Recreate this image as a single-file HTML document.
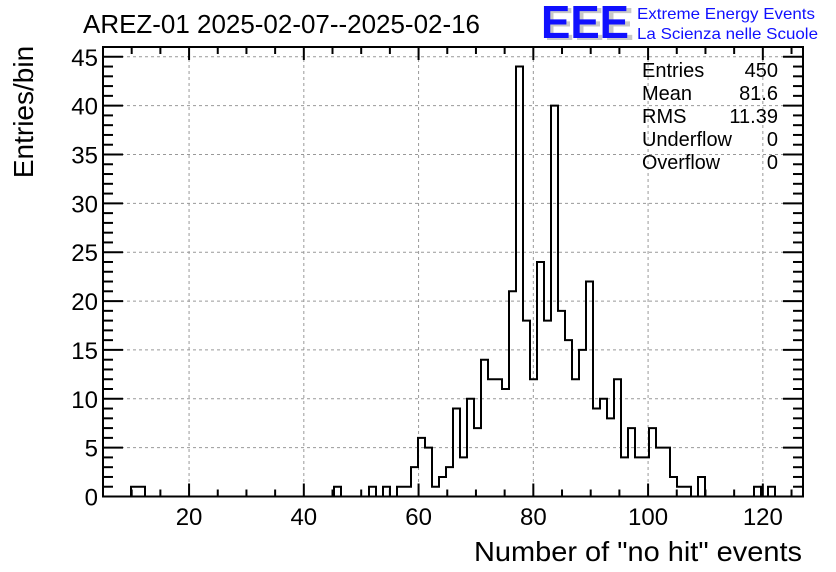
<!DOCTYPE html>
<html><head><meta charset="utf-8"><style>
body{margin:0;background:#fff;}
svg{display:block;font-family:"Liberation Sans",Arial,sans-serif;}
</style></head><body>
<svg id="chart" width="836" height="572" viewBox="0 0 836 572" xmlns="http://www.w3.org/2000/svg">
<rect width="836" height="572" fill="#fff"/>
<text x="83" y="33" font-size="26" textLength="397" lengthAdjust="spacingAndGlyphs">AREZ-01 2025-02-07--2025-02-16</text>
<g>
<text x="544" y="40" font-size="46" font-weight="bold" fill="#c8c8c8" textLength="90" lengthAdjust="spacingAndGlyphs">EEE</text>
<text x="541" y="38" font-size="46" font-weight="bold" fill="#1010ff" textLength="88" lengthAdjust="spacingAndGlyphs">EEE</text>
<text x="637" y="19" font-size="16" fill="#1010ff" textLength="178" lengthAdjust="spacingAndGlyphs">Extreme Energy Events</text>
<text x="637" y="39" font-size="16" fill="#1010ff" textLength="181" lengthAdjust="spacingAndGlyphs">La Scienza nelle Scuole</text>
</g>
<g id="grid"></g>
<g id="hist"></g>
<g id="axes"></g>
<text transform="translate(33,112) rotate(-90)" text-anchor="middle" font-size="28">Entries/bin</text>
<text x="802" y="561" text-anchor="end" font-size="28" textLength="328" lengthAdjust="spacingAndGlyphs">Number of "no hit" events</text>
<g font-size="20">
<text x="642" y="77">Entries</text><text x="778" y="77" text-anchor="end">450</text>
<text x="642" y="100">Mean</text><text x="778" y="100" text-anchor="end">81.6</text>
<text x="642" y="123">RMS</text><text x="778" y="123" text-anchor="end">11.39</text>
<text x="642" y="146" textLength="90" lengthAdjust="spacingAndGlyphs">Underflow</text><text x="778" y="146" text-anchor="end">0</text>
<text x="642" y="169" textLength="78" lengthAdjust="spacingAndGlyphs">Overflow</text><text x="778" y="169" text-anchor="end">0</text>
</g>
</svg>
<script>
const xMin = 5, xMax = 127, nBins = 100;
const yMax = 45;
const xTickLabels = [20, 40, 60, 80, 100, 120];
const yTickLabels = [0, 5, 10, 15, 20, 25, 30, 35, 40, 45];
const nonZeroBins = [4,5,33,38,40,42,43,44,45,46,47,48,49,50,51,52,53,54,55,56,57,58,59,60,61,62,63,64,65,66,67,68,69,70,71,72,73,74,75,76,77,78,79,80,81,82,83,85,93,95];
const binCounts =   [1,1,1, 1, 1, 1, 1, 3, 6, 5, 1, 2, 3, 9, 4,10, 7,14,12,12,11,21,44,18,12,24,18,40,19,16,12,15,22, 9,10, 8,12, 4, 7, 4, 4, 7, 5, 5, 2, 1, 1, 2, 1, 1];

const L = 103, R = 803, T = 47, B = 496.5;
const ns = "http://www.w3.org/2000/svg";
function X(v){ return L + (v - xMin) / (xMax - xMin) * (R - L); }
function Y(v){ return B - v / 46 * (B - T) ; }
function mk(tag, attrs, parent){ const e = document.createElementNS(ns, tag); for (const k in attrs) e.setAttribute(k, attrs[k]); parent.appendChild(e); return e; }
const grid = document.getElementById('grid'), axes = document.getElementById('axes'), hist = document.getElementById('hist');
const bw = (xMax - xMin) / nBins;

xTickLabels.forEach(v => {
  const g = mk('line', {x1: X(v), x2: X(v), y1: T, y2: B, stroke: '#999', 'stroke-dasharray': '3,3', 'stroke-width': 1}, grid);
  
  
  const t = mk('text', {x: X(v), y: 525, 'text-anchor': 'middle', 'font-size': 24}, axes);
  t.textContent = v;
  
  
});
yTickLabels.forEach(v => {
  if (v > 0) {
    const g = mk('line', {x1: L, x2: R, y1: Y(v), y2: Y(v), stroke: '#999', 'stroke-dasharray': '3,3', 'stroke-width': 1}, grid);
    
    
  }
  const t = mk('text', {x: 98, y: Y(v) + 9, 'text-anchor': 'end', 'font-size': 24}, axes);
  t.textContent = v;
  
  
});

const counts = new Array(nBins).fill(0);
nonZeroBins.forEach((b, i) => { counts[b] = binCounts[i]; });
let d = 'M' + X(xMin) + ',' + Y(0);
for (let i = 0; i < nBins; i++) {
  const x0 = X(xMin + i * bw), x1 = X(xMin + (i + 1) * bw);
  d += ' L' + x0 + ',' + Y(counts[i]) + ' L' + x1 + ',' + Y(counts[i]);
}
d += ' L' + X(xMax) + ',' + Y(0);
const p = mk('path', {d: d, fill: 'none', stroke: '#000', 'stroke-width': 2}, hist);



const fr = mk('rect', {x: L, y: T, width: R - L, height: B - T, fill: 'none', stroke: '#000', 'stroke-width': 2}, axes);



for (let v = 5; v <= 125; v += 5) {
  const major = v % 20 === 0;
  const len = major ? 13 : 7;
  mk('line', {x1: X(v), x2: X(v), y1: B, y2: B - len, stroke: '#000', 'stroke-width': 2}, axes);
  mk('line', {x1: X(v), x2: X(v), y1: T, y2: T + len, stroke: '#000', 'stroke-width': 2}, axes);
}
for (let v = 0; v <= 45; v++) {
  const major = v % 5 === 0;
  const len = major ? 20 : 10;
  mk('line', {x1: L, x2: L + len, y1: Y(v), y2: Y(v), stroke: '#000', 'stroke-width': 2}, axes);
  mk('line', {x1: R, x2: R - len, y1: Y(v), y2: Y(v), stroke: '#000', 'stroke-width': 2}, axes);
}
</script>
</body></html>
